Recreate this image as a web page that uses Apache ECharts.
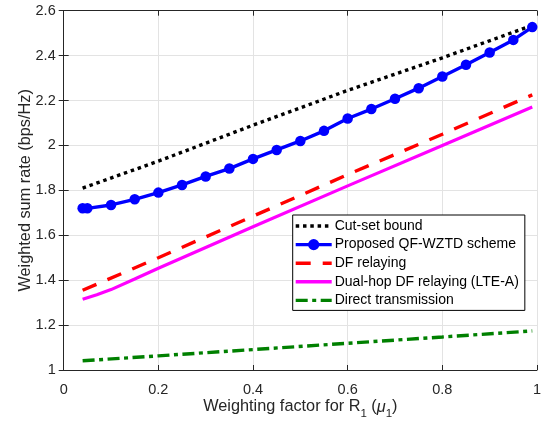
<!DOCTYPE html>
<html>
<head>
<meta charset="utf-8">
<script src="https://cdn.jsdelivr.net/npm/echarts@6/dist/echarts.min.js"></script>
<style>html,body{margin:0;padding:0;background:#fff}#c{width:541px;height:423px}</style>
</head>
<body>
<div id="c"></div>
<script>
// ---- data ----
const xTicks = [0, 0.2, 0.4, 0.6, 0.8, 1];
const yTicks = [1, 1.2, 1.4, 1.6, 1.8, 2, 2.2, 2.4, 2.6];

const cutSetX = [0.04, 0.2, 0.4, 0.6, 0.8, 0.99];
const cutSetY = [1.81, 1.93, 2.09, 2.245, 2.39, 2.535];

const proposedX = [0.04, 0.05, 0.1, 0.15, 0.2, 0.25, 0.3, 0.35, 0.4, 0.45, 0.5, 0.55, 0.6, 0.65, 0.7, 0.75, 0.8, 0.85, 0.9, 0.95, 0.99];
const proposedY = [1.72, 1.72, 1.735, 1.76, 1.79, 1.824, 1.862, 1.897, 1.94, 1.98, 2.02, 2.065, 2.12, 2.162, 2.208, 2.255, 2.307, 2.359, 2.414, 2.47, 2.527];

const dfX = [0.04, 0.2, 0.4, 0.6, 0.8, 0.99];
const dfY = [1.355, 1.50, 1.685, 1.87, 2.05, 2.225];

const dualHopX = [0.04, 0.07, 0.1, 0.15, 0.2, 0.4, 0.6, 0.8, 0.99];
const dualHopY = [1.315, 1.335, 1.358, 1.405, 1.453, 1.638, 1.82, 2.0, 2.171];

const directX = [0.04, 0.2, 0.4, 0.6, 0.8, 0.99];
const directY = [1.041, 1.063, 1.091, 1.119, 1.147, 1.174];

const seriesNames = ['Cut-set bound', 'Proposed QF-WZTD scheme', 'DF relaying', 'Dual-hop DF relaying (LTE-A)', 'Direct transmission'];

// ---- chart ----
const pairs = (xs, ys) => xs.map((x, i) => [x, ys[i]]);
const FONT = '"Liberation Sans", Arial, Helvetica, sans-serif';
const AX = '#262626';

const chart = echarts.init(document.getElementById('c'), null, {renderer: 'canvas'});
const baseLine = {showSymbol: false, symbol: 'none', animation: false, z: 3};

chart.setOption({
  animation: false,
  backgroundColor: '#fff',
  grid: {left: 63.7, right: 4, top: 10.7, bottom: 53, containLabel: false, outerBoundsMode: 'none'},
  xAxis: [{
    type: 'value', min: 0, max: 1, interval: 0.2,
    axisLine: {show: true, lineStyle: {color: AX, width: 1}},
    axisTick: {show: true, inside: true, length: 5, lineStyle: {color: AX}},
    axisLabel: {color: AX, fontSize: 14.5, fontFamily: FONT, margin: 12},
    splitLine: {show: true, lineStyle: {color: '#e3e3e3', width: 1}},
    name: '{t|Weighting factor for R}{s|1}{t| (}{m|μ}{s|1}{t|)}',
    nameLocation: 'middle', nameGap: 24, nameMoveOverlap: false,
    nameTextStyle: {
      rich: {
        t: {fontSize: 16.3, fontFamily: FONT, color: AX},
        m: {fontSize: 16.3, fontFamily: FONT, color: AX, fontStyle: 'italic'},
        s: {fontSize: 11.5, fontFamily: FONT, color: AX, padding: [14, 0, 0, 0]}
      }
    }
  }, {
    type: 'value', min: 0, max: 1, interval: 0.2, position: 'top',
    axisLine: {show: true, lineStyle: {color: AX, width: 1}},
    axisTick: {show: true, inside: true, length: 5, lineStyle: {color: AX}},
    axisLabel: {show: false}, splitLine: {show: false}
  }],
  yAxis: [{
    type: 'value', min: 1, max: 2.6, interval: 0.2,
    axisLine: {show: true, lineStyle: {color: AX, width: 1}},
    axisTick: {show: true, inside: true, length: 5, lineStyle: {color: AX}},
    axisLabel: {color: AX, fontSize: 14.5, fontFamily: FONT, margin: 8},
    splitLine: {show: true, lineStyle: {color: '#e3e3e3', width: 1}},
    name: 'Weighted sum rate (bps/Hz)',
    nameLocation: 'middle', nameGap: 30, nameMoveOverlap: false,
    nameTextStyle: {fontSize: 16.3, fontFamily: FONT, color: AX}
  }, {
    type: 'value', min: 1, max: 2.6, interval: 0.2, position: 'right',
    axisLine: {show: true, lineStyle: {color: AX, width: 1}},
    axisTick: {show: true, inside: true, length: 5, lineStyle: {color: AX}},
    axisLabel: {show: false}, splitLine: {show: false}
  }],
  legend: {
    orient: 'vertical', left: 292.7, top: 215,
    padding: [4, 6, 3, 1.3],
    itemWidth: 36, itemHeight: 14, itemGap: 4.6,
    backgroundColor: '#fff', borderColor: '#000', borderWidth: 1,
    textStyle: {fontSize: 14, fontFamily: FONT, color: '#000', padding: [0, 0, 0, -2]},
    lineStyle: {width: 3.4},
    data: [
      {name: seriesNames[0], itemStyle: {opacity: 0}},
      {name: seriesNames[1]},
      {name: seriesNames[2], itemStyle: {opacity: 0}},
      {name: seriesNames[3], itemStyle: {opacity: 0}},
      {name: seriesNames[4], itemStyle: {opacity: 0}}
    ]
  },
  series: [
    Object.assign({}, baseLine, {
      name: seriesNames[0], type: 'line', data: pairs(cutSetX, cutSetY),
      lineStyle: {color: '#000', width: 3.4, type: [3.5, 3.8], cap: 'butt'},
      itemStyle: {color: '#000'}
    }),
    {
      name: seriesNames[1], type: 'line', data: pairs(proposedX, proposedY), z: 4,
      symbol: 'circle', symbolSize: 10.5, showSymbol: true, animation: false,
      lineStyle: {color: '#0000ff', width: 3.4},
      itemStyle: {color: '#0000ff'}
    },
    Object.assign({}, baseLine, {
      name: seriesNames[2], type: 'line', data: pairs(dfX, dfY),
      lineStyle: {color: '#ff0000', width: 3.4, type: [15, 12], cap: 'butt'},
      itemStyle: {color: '#ff0000'}
    }),
    Object.assign({}, baseLine, {
      name: seriesNames[3], type: 'line', data: pairs(dualHopX, dualHopY),
      lineStyle: {color: '#ff00ff', width: 3.2},
      itemStyle: {color: '#ff00ff'}
    }),
    Object.assign({}, baseLine, {
      name: seriesNames[4], type: 'line', data: pairs(directX, directY),
      lineStyle: {color: '#008000', width: 3.4, type: [12, 4.5, 4, 4.5], cap: 'butt'},
      itemStyle: {color: '#008000'}
    })
  ]
});
</script>
</body>
</html>
